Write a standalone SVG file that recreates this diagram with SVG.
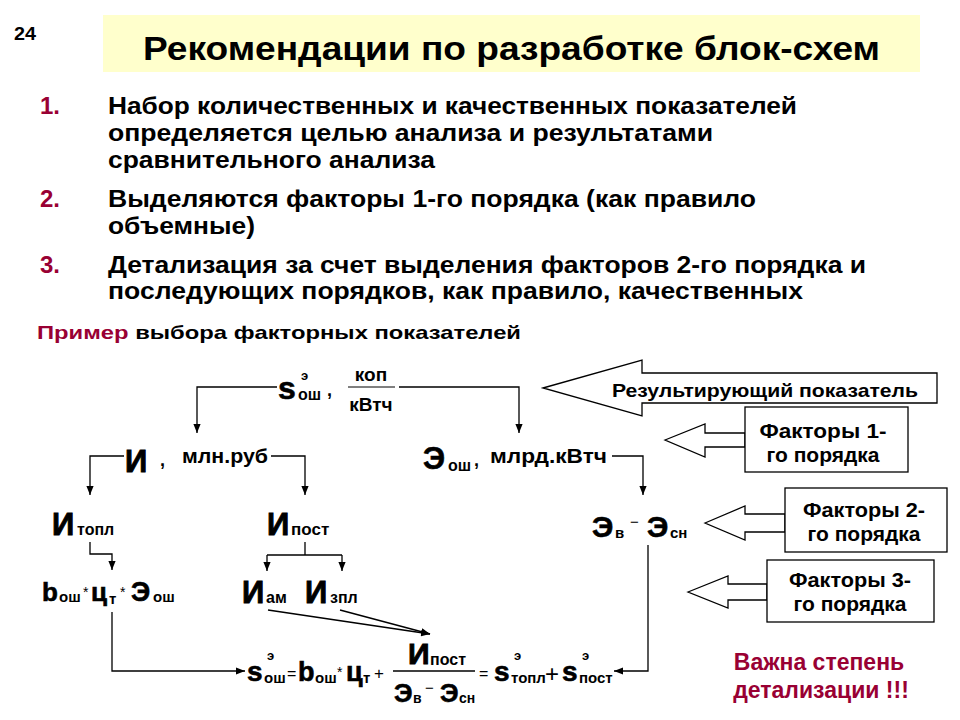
<svg xmlns="http://www.w3.org/2000/svg" width="960" height="720" viewBox="0 0 960 720">
<defs>
<style>
text{font-family:"Liberation Sans",Arial,sans-serif;font-weight:bold;fill:#000}
.red{fill:#990033}
.li{font-size:24px}
.lbl{font-size:21px}
.big{font-size:31px;stroke:#000;stroke-width:0.9px}
.hv{stroke:#000;stroke-width:0.6px}
.sub{font-size:16px}
.sup{font-size:13px}
.op{font-weight:normal;font-size:15px}
.fac{font-size:21px}
.box{fill:#fff;stroke:#000;stroke-width:1.3}
.cn{fill:none;stroke:#000;stroke-width:1.3}
</style>
<marker id="ah" viewBox="0 0 10 8" refX="10" refY="4" markerWidth="9" markerHeight="8" orient="auto" markerUnits="userSpaceOnUse"><path d="M0,0 L10,4 L0,8 z" fill="#000"/></marker>
</defs>
<rect width="960" height="720" fill="#fff"/>

<g id="header">
<text x="14" y="40" style="font-size:18px" textLength="22" lengthAdjust="spacingAndGlyphs">24</text>
<rect x="103" y="15" width="817" height="57" fill="#FFFFCC"/>
<text x="143" y="60" style="font-size:34px" textLength="737" lengthAdjust="spacingAndGlyphs">Рекомендации по разработке блок-схем</text>
</g>

<g id="list">
<text class="li red" x="40" y="114">1.</text>
<text class="li" x="108" y="114" textLength="689" lengthAdjust="spacingAndGlyphs">Набор количественных и качественных показателей</text>
<text class="li" x="108" y="141" textLength="605" lengthAdjust="spacingAndGlyphs">определяется целью анализа и результатами</text>
<text class="li" x="108" y="168" textLength="327" lengthAdjust="spacingAndGlyphs">сравнительного анализа</text>
<text class="li red" x="40" y="207">2.</text>
<text class="li" x="108" y="207" textLength="648" lengthAdjust="spacingAndGlyphs">Выделяются факторы 1-го порядка (как правило</text>
<text class="li" x="108" y="234" textLength="147" lengthAdjust="spacingAndGlyphs">объемные)</text>
<text class="li red" x="40" y="273">3.</text>
<text class="li" x="108" y="273" textLength="758" lengthAdjust="spacingAndGlyphs">Детализация за счет выделения факторов 2-го порядка и</text>
<text class="li" x="108" y="299" textLength="695" lengthAdjust="spacingAndGlyphs">последующих порядков, как правило, качественных</text>
<text x="37" y="339" style="font-size:19px" textLength="484" lengthAdjust="spacingAndGlyphs"><tspan class="red">Пример</tspan> выбора факторных показателей</text>
</g>

<g id="connectors">
<path class="cn" d="M277 387 H197 V433" marker-end="url(#ah)"/>
<path class="cn" d="M399 387 H519 V433" marker-end="url(#ah)"/>
<path class="cn" d="M124 456 H90 V495" marker-end="url(#ah)"/>
<path class="cn" d="M271 456 H305 V495" marker-end="url(#ah)"/>
<path class="cn" d="M612 456 H643 V495" marker-end="url(#ah)"/>
<path class="cn" d="M90 542 V554 H112 V570" marker-end="url(#ah)"/>
<path class="cn" d="M305 542 V555"/>
<path class="cn" d="M267 555 H342"/>
<path class="cn" d="M267 555 V571" marker-end="url(#ah)"/>
<path class="cn" d="M342 555 V571" marker-end="url(#ah)"/>
<path class="cn" d="M112 612 V671 H245" marker-end="url(#ah)"/>
<path class="cn" d="M268 610 L430 634" marker-end="url(#ah)"/>
<path class="cn" d="M340 610 L430 634" marker-end="url(#ah)"/>
<path class="cn" d="M648 545 V671 H614" marker-end="url(#ah)"/>
</g>

<g id="node-s-osh">
<text class="hv" x="278" y="399" style="font-size:32px">s</text>
<text class="sup" x="301" y="380">э</text>
<text class="sub" x="298" y="400">ош</text>
<text x="327" y="396" style="font-size:18px">,</text>
<text x="371" y="381" text-anchor="middle" style="font-size:19px">коп</text>
<line x1="348" y1="387" x2="395" y2="387" stroke="#000" stroke-width="1"/>
<text x="371" y="411" text-anchor="middle" style="font-size:19px">кВтч</text>
</g>

<g id="node-I">
<text class="big" x="125" y="472">И</text>
<text x="160" y="466" style="font-size:18px">,</text>
<text class="lbl" x="182" y="463" textLength="86" lengthAdjust="spacingAndGlyphs">млн.руб</text>
</g>

<g id="node-E-osh">
<text class="hv" x="423" y="469" style="font-size:31px">Э</text>
<text class="sub" x="448" y="471">ош</text>
<text x="474" y="466" style="font-size:18px">,</text>
<text class="lbl" x="490" y="463" textLength="117" lengthAdjust="spacingAndGlyphs">млрд.кВтч</text>
</g>

<g id="node-I-topl">
<text class="big" x="52" y="535">И</text>
<text class="sub" x="77" y="535">топл</text>
</g>

<g id="node-I-post">
<text class="big" x="267" y="535">И</text>
<text class="sub" x="291" y="535" style="font-size:17px">пост</text>
</g>

<g id="node-E-diff">
<text class="hv" x="592" y="537" style="font-size:30px">Э</text>
<text class="sub" x="615" y="538" style="font-size:15px">в</text>
<text class="op" x="630" y="527">−</text>
<text class="hv" x="647" y="537" style="font-size:30px">Э</text>
<text class="sub" x="670" y="538" style="font-size:15px">сн</text>
</g>

<g id="node-b-c-E">
<text class="hv" x="42" y="601" style="font-size:26px">b</text>
<text class="sub" x="59" y="602" style="font-size:15px">ош</text>
<text class="op" x="83" y="597" style="font-size:14px">*</text>
<text class="hv" x="91" y="601" style="font-size:26px">ц</text>
<text class="sub" x="109" y="604" style="font-size:15px">т</text>
<text class="op" x="120" y="597" style="font-size:14px">*</text>
<text class="hv" x="131" y="601" style="font-size:27px">Э</text>
<text class="sub" x="153" y="602" style="font-size:15px">ош</text>
</g>

<g id="node-I-am">
<text class="big" x="242" y="603">И</text>
<text class="sub" x="266" y="603">ам</text>
</g>

<g id="node-I-zpl">
<text class="big" x="305" y="603">И</text>
<text class="sub" x="330" y="603">зпл</text>
</g>

<g id="node-formula">
<text class="hv" x="247" y="681" style="font-size:28px">s</text>
<text class="sup" x="267" y="660">э</text>
<text class="sub" x="264" y="683" style="font-size:15px">ош</text>
<text class="op" x="287" y="679" style="font-size:16px">=</text>
<text class="hv" x="298" y="681" style="font-size:27px">b</text>
<text class="sub" x="315" y="683" style="font-size:15px">ош</text>
<text class="op" x="337" y="677" style="font-size:14px">*</text>
<text class="hv" x="346" y="681" style="font-size:27px">ц</text>
<text class="sub" x="363" y="683" style="font-size:15px">т</text>
<text class="op" x="374" y="679" style="font-size:17px">+</text>
<text class="big" x="408" y="664" style="font-size:30px">И</text>
<text class="sub" x="430" y="665">пост</text>
<line x1="393" y1="671" x2="475" y2="671" stroke="#000" stroke-width="1.3"/>
<text class="hv" x="394" y="702" style="font-size:26px">Э</text>
<text class="sub" x="413" y="703" style="font-size:14px">в</text>
<text class="op" x="425" y="693">−</text>
<text class="hv" x="440" y="702" style="font-size:26px">Э</text>
<text class="sub" x="459" y="703" style="font-size:14px">сн</text>
<text class="op" x="479" y="679" style="font-size:16px">=</text>
<text class="hv" x="494" y="681" style="font-size:28px">s</text>
<text class="sup" x="514" y="660">э</text>
<text class="sub" x="511" y="683" style="font-size:15px">топл</text>
<text class="op" x="545" y="682" style="font-size:24px">+</text>
<text class="hv" x="562" y="681" style="font-size:28px">s</text>
<text class="sup" x="582" y="660">э</text>
<text class="sub" x="579" y="683" style="font-size:15px">пост</text>
</g>

<g id="result-arrow">
<polygon class="box" points="543,388 642,360 642,373 937,373 937,403 642,403 642,416"/>
<text x="612" y="397" style="font-size:19px" textLength="306" lengthAdjust="spacingAndGlyphs">Результирующий показатель</text>
</g>

<g id="factors-1">
<polygon class="box" points="665,440 705,424 705,433 745,433 745,447 705,447 705,457"/>
<rect class="box" x="745" y="407" width="163" height="65"/>
<text class="fac" x="823" y="438" text-anchor="middle" textLength="127" lengthAdjust="spacingAndGlyphs">Факторы 1-</text>
<text class="fac" x="823" y="462" text-anchor="middle">го порядка</text>
</g>

<g id="factors-2">
<polygon class="box" points="705,523 745,506 745,514 785,514 785,532 745,532 745,540"/>
<rect class="box" x="785" y="488" width="162" height="64"/>
<text class="fac" x="864" y="517" text-anchor="middle" textLength="122" lengthAdjust="spacingAndGlyphs">Факторы 2-</text>
<text class="fac" x="864" y="541" text-anchor="middle">го порядка</text>
</g>

<g id="factors-3">
<polygon class="box" points="688,592 728,576 728,584 767,584 767,600 728,600 728,608"/>
<rect class="box" x="767" y="560" width="167" height="62"/>
<text class="fac" x="850" y="587" text-anchor="middle" textLength="122" lengthAdjust="spacingAndGlyphs">Факторы 3-</text>
<text class="fac" x="850" y="611" text-anchor="middle">го порядка</text>
</g>

<g id="note">
<text class="red" x="819" y="670" text-anchor="middle" style="font-size:23px">Важна степень</text>
<text class="red" x="821" y="698" text-anchor="middle" style="font-size:23px">детализации !!!</text>
</g>
</svg>
